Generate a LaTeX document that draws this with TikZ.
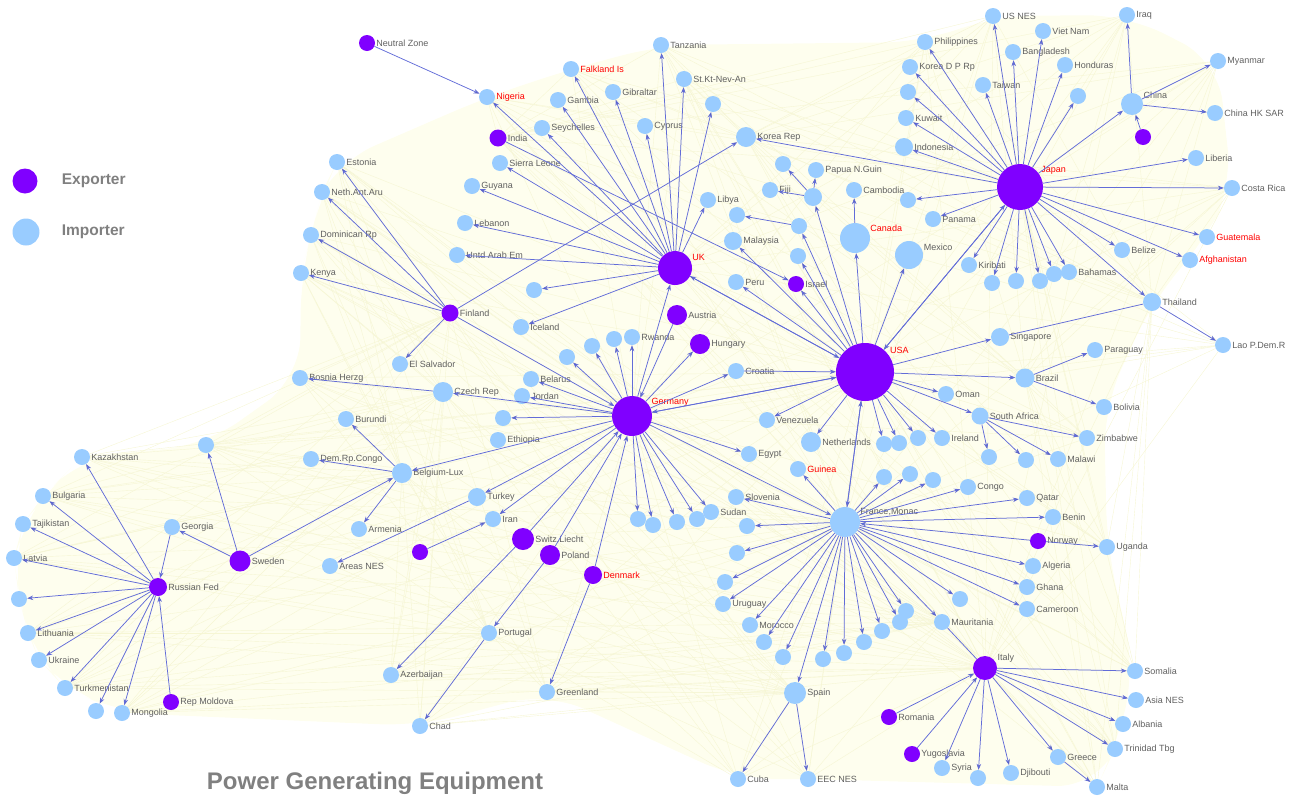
\documentclass[tikz,border=0pt]{standalone}
\usepackage{fontspec}
\setmainfont{Liberation Sans}
\usetikzlibrary{positioning, arrows.meta, backgrounds}
\definecolor{expcol}{RGB}{128,0,255}
\definecolor{impcol}{RGB}{153,204,255}
\definecolor{edgecol}{RGB}{98,108,216}
\definecolor{labgrey}{RGB}{96,96,96}
\definecolor{titlegrey}{RGB}{128,128,128}
\definecolor{webfill}{RGB}{254,254,238}
\definecolor{webline}{RGB}{246,246,212}
\tikzstyle{country}=[circle, inner sep=0pt, minimum size=16pt]
\tikzstyle{exporter}=[country, fill=expcol]
\tikzstyle{importer}=[country, fill=impcol]
\tikzstyle{cname}=[font=\fontsize{9}{10}\selectfont, text=labgrey, inner sep=1pt]
\tikzstyle{rname}=[cname, text=red]
\tikzstyle{flow}=[-{Stealth[length=6pt,width=4.5pt]}, draw=edgecol, line width=0.75pt]
\tikzstyle{plainflow}=[draw=edgecol, line width=0.75pt]
\tikzstyle{web}=[draw=webline, line width=0.4pt]
\tikzstyle{legendtext}=[font=\bfseries\fontsize{15.5}{18}\selectfont, text=titlegrey, inner sep=0pt]

\begin{document}
\begin{tikzpicture}[x=1pt, y=-1pt]
    \useasboundingbox (0,0) rectangle (1291,801);

    % legend and title
    \node[exporter, minimum size=25pt] (legexp) at (25,181) {};
    \node[legendtext, right=24pt of legexp] (legexptext) {Exporter};
    \node[importer, minimum size=27pt] (legimp) at (26,232) {};
    \node[legendtext, right=22pt of legimp] (legimptext) {Importer};
    \node[font=\bfseries\fontsize{24}{28}\selectfont, text=titlegrey, inner sep=0pt] (title) at (375,783) {Power Generating Equipment};

    % exporters
    \node[exporter, label={[cname]right:Neutral Zone}] (neutral) at (367,43) {};
    \node[exporter, minimum size=17pt, label={[cname]right:India}] (india) at (498,138) {};
    \node[exporter, minimum size=34pt, label={[rname]20:UK}] (uk) at (675,268) {};
    \node[exporter, minimum size=17pt, label={[cname]right:Finland}] (finland) at (450,313) {};
    \node[exporter, minimum size=20pt, label={[cname]right:Austria}] (austria) at (677,315) {};
    \node[exporter, minimum size=20pt, label={[cname]right:Hungary}] (hungary) at (700,344) {};
    \node[exporter, label={[cname]right:Israel}] (israel) at (796,284) {};
    \node[exporter, minimum size=58pt, label={[rname]35:USA}] (usa) at (865,372) {};
    \node[exporter, minimum size=40pt, label={[rname]25:Germany}] (germany) at (632,416) {};
    \node[exporter, minimum size=46pt, label={[rname]30:Japan}] (japan) at (1020,187) {};
    \node[exporter] (exjp) at (1143,137) {};
    \node[exporter, minimum size=21pt, label={[cname]right:Sweden}] (sweden) at (240,561) {};
    \node[exporter, minimum size=18pt, label={[cname]right:Russian Fed}] (rusfed) at (158,587) {};
    \node[exporter, label={[cname]right:Rep Moldova}] (moldova) at (171,702) {};
    \node[exporter] (exir) at (420,552) {};
    \node[exporter, minimum size=22pt, label={[cname]right:Switz.Liecht}] (switz) at (523,539) {};
    \node[exporter, minimum size=20pt, label={[cname]right:Poland}] (poland) at (550,555) {};
    \node[exporter, minimum size=18pt, label={[rname]right:Denmark}] (denmark) at (593,575) {};
    \node[exporter, label={[cname]right:Norway}] (norway) at (1038,541) {};
    \node[exporter, minimum size=24pt, label={[cname]20:Italy}] (italy) at (985,668) {};
    \node[exporter, label={[cname]right:Romania}] (romania) at (889,717) {};
    \node[exporter, label={[cname]right:Yugoslavia}] (yugo) at (912,754) {};

    % importers, top left
    \node[importer, label={[rname]right:Nigeria}] (nigeria) at (487,97) {};
    \node[importer, label={[rname]right:Falkland Is}] (falkland) at (571,69) {};
    \node[importer, label={[cname]right:Gambia}] (gambia) at (558,100) {};
    \node[importer, label={[cname]right:Gibraltar}] (gibraltar) at (613,92) {};
    \node[importer, label={[cname]right:Tanzania}] (tanzania) at (661,45) {};
    \node[importer, label={[cname]right:St.Kt-Nev-An}] (stkitts) at (684,79) {};
    \node[importer] (uk1) at (713,104) {};
    \node[importer, label={[cname]right:Cyprus}] (cyprus) at (645,126) {};
    \node[importer, label={[cname]right:Seychelles}] (seychelles) at (542,128) {};
    \node[importer, label={[cname]right:Sierra Leone}] (sierra) at (500,163) {};
    \node[importer, label={[cname]right:Estonia}] (estonia) at (337,162) {};
    \node[importer, label={[cname]right:Neth.Ant.Aru}] (nethant) at (322,192) {};
    \node[importer, label={[cname]right:Guyana}] (guyana) at (472,186) {};
    \node[importer, label={[cname]right:Lebanon}] (lebanon) at (465,223) {};
    \node[importer, label={[cname]right:Dominican Rp}] (dominican) at (311,235) {};
    \node[importer, label={[cname]right:Untd Arab Em}] (uae) at (457,255) {};
    \node[importer, label={[cname]right:Kenya}] (kenya) at (301,273) {};
    \node[importer] (uk2) at (534,290) {};
    \node[importer, label={[cname]right:Iceland}] (iceland) at (521,327) {};

    % importers, top middle
    \node[importer, minimum size=20pt, label={[cname]right:Korea Rep}] (korea) at (746,137) {};
    \node[importer, label={[cname]right:Libya}] (libya) at (708,200) {};
    \node[importer] (us1) at (737,215) {};
    \node[importer, label={[cname]right:Fiji}] (fiji) at (770,190) {};
    \node[importer] (us2) at (783,164) {};
    \node[importer, label={[cname]right:Papua N.Guin}] (papua) at (816,170) {};
    \node[importer, minimum size=18pt] (hub1) at (813,197) {};
    \node[importer] (hub2) at (799,226) {};
    \node[importer, minimum size=18pt, label={[cname]right:Malaysia}] (malaysia) at (733,241) {};
    \node[importer] (us3) at (798,256) {};
    \node[importer, label={[cname]right:Cambodia}] (cambodia) at (854,190) {};
    \node[importer, minimum size=30pt, label={[rname]20:Canada}] (canada) at (855,238) {};
    \node[importer, minimum size=28pt, label={[cname]15:Mexico}] (mexico) at (909,255) {};
    \node[importer, label={[cname]right:Peru}] (peru) at (736,282) {};

    % importers, Japan side
    \node[importer] (jp1) at (908,200) {};
    \node[importer, label={[cname]right:Panama}] (panama) at (933,219) {};
    \node[importer, label={[cname]right:Philippines}] (philippines) at (925,42) {};
    \node[importer, label={[cname]right:Korea D P Rp}] (koreadp) at (910,67) {};
    \node[importer] (jp2) at (908,92) {};
    \node[importer, label={[cname]right:Kuwait}] (kuwait) at (906,118) {};
    \node[importer, minimum size=18pt, label={[cname]right:Indonesia}] (indonesia) at (904,147) {};
    \node[importer, label={[cname]right:US NES}] (usnes) at (993,16) {};
    \node[importer, label={[cname]right:Viet Nam}] (vietnam) at (1043,31) {};
    \node[importer, label={[cname]right:Bangladesh}] (bangladesh) at (1013,52) {};
    \node[importer, label={[cname]right:Honduras}] (honduras) at (1065,65) {};
    \node[importer, label={[cname]right:Taiwan}] (taiwan) at (983,85) {};
    \node[importer] (jp3) at (1078,96) {};
    \node[importer, label={[cname]right:Iraq}] (iraq) at (1127,15) {};
    \node[importer, label={[cname]right:Myanmar}] (myanmar) at (1218,61) {};
    \node[importer, minimum size=22pt, label={[cname]20:China}] (china) at (1132,104) {};
    \node[importer, label={[cname]right:China HK SAR}] (chinahk) at (1215,113) {};
    \node[importer, label={[cname]right:Liberia}] (liberia) at (1196,158) {};
    \node[importer, label={[cname]right:Costa Rica}] (costarica) at (1232,188) {};
    \node[importer, label={[rname]right:Guatemala}] (guatemala) at (1207,237) {};
    \node[importer, label={[rname]right:Afghanistan}] (afghan) at (1190,260) {};
    \node[importer, label={[cname]right:Belize}] (belize) at (1122,250) {};
    \node[importer, label={[cname]right:Kiribati}] (kiribati) at (969,265) {};
    \node[importer] (jp4) at (992,283) {};
    \node[importer] (jp5) at (1016,281) {};
    \node[importer] (jp6) at (1040,281) {};
    \node[importer] (jp7) at (1054,274) {};
    \node[importer, label={[cname]right:Bahamas}] (bahamas) at (1069,272) {};
    \node[importer, minimum size=18pt, label={[cname]right:Thailand}] (thailand) at (1152,302) {};
    \node[importer, label={[cname]right:Lao P.Dem.R}] (lao) at (1223,345) {};

    % importers, right of USA
    \node[importer, minimum size=18pt, label={[cname]right:Singapore}] (singapore) at (1000,337) {};
    \node[importer, label={[cname]right:Paraguay}] (paraguay) at (1095,350) {};
    \node[importer, minimum size=19pt, label={[cname]right:Brazil}] (brazil) at (1025,378) {};
    \node[importer, label={[cname]right:Bolivia}] (bolivia) at (1104,407) {};
    \node[importer, minimum size=17pt, label={[cname]right:South Africa}] (southafrica) at (980,416) {};
    \node[importer, label={[cname]right:Zimbabwe}] (zimbabwe) at (1087,438) {};
    \node[importer] (sa1) at (989,457) {};
    \node[importer] (sa2) at (1026,460) {};
    \node[importer, label={[cname]right:Malawi}] (malawi) at (1058,459) {};
    \node[importer, label={[cname]right:Oman}] (oman) at (946,394) {};
    \node[importer] (usa1) at (884,444) {};
    \node[importer] (usa2) at (899,443) {};
    \node[importer] (usa3) at (918,438) {};
    \node[importer, label={[cname]right:Ireland}] (ireland) at (942,438) {};
    \node[importer, label={[cname]right:Croatia}] (croatia) at (736,371) {};
    \node[importer, label={[cname]right:Venezuela}] (venezuela) at (767,420) {};
    \node[importer, minimum size=20pt, label={[cname]right:Netherlands}] (netherlands) at (811,442) {};
    \node[importer, label={[cname]right:Egypt}] (egypt) at (749,454) {};
    \node[importer, label={[rname]right:Guinea}] (guinea) at (798,469) {};

    % importers, France and Italy
    \node[importer, minimum size=30pt, label={[cname]20:France,Monac}] (france) at (845,522) {};
    \node[importer] (fr13) at (884,477) {};
    \node[importer] (fr14) at (910,474) {};
    \node[importer] (fr15) at (933,480) {};
    \node[importer, label={[cname]right:Congo}] (congo) at (968,487) {};
    \node[importer, label={[cname]right:Qatar}] (qatar) at (1027,498) {};
    \node[importer, label={[cname]right:Benin}] (benin) at (1053,517) {};
    \node[importer, label={[cname]right:Uganda}] (uganda) at (1107,547) {};
    \node[importer, label={[cname]right:Algeria}] (algeria) at (1033,566) {};
    \node[importer, label={[cname]right:Ghana}] (ghana) at (1027,587) {};
    \node[importer, label={[cname]right:Cameroon}] (cameroon) at (1027,609) {};
    \node[importer] (fr1) at (960,599) {};
    \node[importer, label={[cname]right:Mauritania}] (mauritania) at (942,622) {};
    \node[importer, label={[cname]right:Slovenia}] (slovenia) at (736,497) {};
    \node[importer] (fr12) at (747,526) {};
    \node[importer] (fr2) at (737,553) {};
    \node[importer] (fr3) at (725,582) {};
    \node[importer, label={[cname]right:Uruguay}] (uruguay) at (723,604) {};
    \node[importer, label={[cname]right:Morocco}] (morocco) at (750,625) {};
    \node[importer] (fr4) at (764,642) {};
    \node[importer] (fr5) at (783,657) {};
    \node[importer] (fr6) at (823,659) {};
    \node[importer] (fr7) at (844,653) {};
    \node[importer] (fr8) at (864,642) {};
    \node[importer] (fr9) at (882,631) {};
    \node[importer] (fr10) at (900,622) {};
    \node[importer] (fr11) at (906,611) {};
    \node[importer, minimum size=22pt, label={[cname]right:Spain}] (spain) at (795,693) {};
    \node[importer, label={[cname]right:Cuba}] (cuba) at (738,779) {};
    \node[importer, label={[cname]right:EEC NES}] (eecnes) at (808,779) {};
    \node[importer, label={[cname]right:Somalia}] (somalia) at (1135,671) {};
    \node[importer, label={[cname]right:Asia NES}] (asianes) at (1136,700) {};
    \node[importer, label={[cname]right:Albania}] (albania) at (1123,724) {};
    \node[importer, label={[cname]right:Trinidad Tbg}] (trinidad) at (1115,749) {};
    \node[importer, label={[cname]right:Greece}] (greece) at (1058,757) {};
    \node[importer, label={[cname]right:Malta}] (malta) at (1097,787) {};
    \node[importer, label={[cname]right:Djibouti}] (djibouti) at (1011,773) {};
    \node[importer] (it1) at (978,778) {};
    \node[importer, label={[cname]right:Syria}] (syria) at (942,768) {};

    % importers, around Germany
    \node[importer, label={[cname]right:Sudan}] (sudan) at (711,512) {};
    \node[importer] (de1) at (697,519) {};
    \node[importer] (de2) at (677,522) {};
    \node[importer] (de3) at (653,525) {};
    \node[importer] (de4) at (638,519) {};
    \node[importer] (de6) at (567,357) {};
    \node[importer] (de7) at (592,346) {};
    \node[importer] (de8) at (614,339) {};
    \node[importer, label={[cname]right:Rwanda}] (rwanda) at (632,337) {};
    \node[importer, label={[cname]right:Belarus}] (belarus) at (531,379) {};
    \node[importer, label={[cname]right:Jordan}] (jordan) at (522,396) {};
    \node[importer] (de5) at (503,418) {};
    \node[importer, label={[cname]right:Ethiopia}] (ethiopia) at (498,440) {};
    \node[importer, label={[cname]right:El Salvador}] (elsalvador) at (400,364) {};
    \node[importer, minimum size=20pt, label={[cname]right:Czech Rep}] (czech) at (443,392) {};
    \node[importer, label={[cname]right:Bosnia Herzg}] (bosnia) at (300,378) {};
    \node[importer, label={[cname]right:Burundi}] (burundi) at (346,419) {};
    \node[importer, label={[cname]right:Dem.Rp.Congo}] (drcongo) at (311,459) {};
    \node[importer, minimum size=20pt, label={[cname]right:Belgium-Lux}] (belgium) at (402,473) {};
    \node[importer, label={[cname]right:Armenia}] (armenia) at (359,529) {};
    \node[importer, minimum size=18pt, label={[cname]right:Turkey}] (turkey) at (477,497) {};
    \node[importer, label={[cname]right:Iran}] (iran) at (493,519) {};
    \node[importer, label={[cname]right:Areas NES}] (areasnes) at (330,566) {};
    \node[importer, label={[cname]right:Portugal}] (portugal) at (489,633) {};
    \node[importer, label={[cname]right:Azerbaijan}] (azerbaijan) at (391,675) {};
    \node[importer, label={[cname]right:Chad}] (chad) at (420,726) {};
    \node[importer, label={[cname]right:Greenland}] (greenland) at (547,692) {};

    % importers, Russia and Sweden
    \node[importer, label={[cname]right:Georgia}] (georgia) at (172,527) {};
    \node[importer] (sw1) at (206,445) {};
    \node[importer, label={[cname]right:Kazakhstan}] (kazakhstan) at (82,457) {};
    \node[importer, label={[cname]right:Bulgaria}] (bulgaria) at (43,496) {};
    \node[importer, label={[cname]right:Tajikistan}] (tajikistan) at (23,524) {};
    \node[importer, label={[cname]right:Latvia}] (latvia) at (14,558) {};
    \node[importer] (ru1) at (19,599) {};
    \node[importer, label={[cname]right:Lithuania}] (lithuania) at (28,633) {};
    \node[importer, label={[cname]right:Ukraine}] (ukraine) at (39,660) {};
    \node[importer, label={[cname]right:Turkmenistan}] (turkmenistan) at (65,688) {};
    \node[importer] (ru2) at (96,711) {};
    \node[importer, label={[cname]right:Mongolia}] (mongolia) at (122,713) {};

    % faint web of the other trade flows
    \begin{scope}[on background layer]
        \fill[webfill, rounded corners=40pt] (kenya.center) -- (dominican.center) -- (nethant.center)
            -- (estonia.center) -- (nigeria.center) -- (falkland.center) -- (tanzania.center)
            -- (philippines.center) -- (usnes.center) -- (iraq.center) -- (myanmar.center)
            -- (costarica.center) -- (guatemala.center) -- (thailand.center) -- (bolivia.center)
            -- (uganda.center) -- (somalia.center) -- (trinidad.center) -- (malta.center)
            -- (eecnes.center) -- (cuba.center) -- (greenland.center) -- (chad.center)
            -- (mongolia.center) -- (turkmenistan.center) -- (ukraine.center) -- (lithuania.center)
            -- (ru1.center) -- (latvia.center) -- (tajikistan.center) -- (bulgaria.center)
            -- (kazakhstan.center) -- (sw1.center) -- (bosnia.center) -- cycle;
        \foreach \a in {kenya, bosnia, estonia, nethant, dominican, kazakhstan, bulgaria, latvia,
            lithuania, turkmenistan, mongolia, chad, azerbaijan, greenland, cuba, eecnes, sw1}
            \foreach \b in {france, usa, germany, italy, spain, belgium, czech, finland, portugal, mauritania}
                \draw[web] (\a) -- (\b);
        \foreach \a in {nigeria, falkland, tanzania, stkitts, philippines, usnes, iraq, myanmar,
            costarica, lao, uganda, somalia, malta, trinidad, zimbabwe}
            \foreach \b in {uk, japan, usa, france, germany, india, korea, thailand, brazil, italy}
                \draw[web] (\a) -- (\b);
    \end{scope}

    % trade flows
    \path[flow]
    (neutral) edge (nigeria)
    (uk) edge (nigeria)
    (uk) edge (falkland)
    (uk) edge (gambia)
    (uk) edge (gibraltar)
    (uk) edge (tanzania)
    (uk) edge (stkitts)
    (uk) edge (uk1)
    (uk) edge (cyprus)
    (uk) edge (seychelles)
    (uk) edge (sierra)
    (uk) edge (guyana)
    (uk) edge (lebanon)
    (uk) edge (uae)
    (uk) edge (libya)
    (uk) edge (uk2)
    (uk) edge (iceland)
    (uk) edge (usa)
    (india) edge (israel)
    (finland) edge (kenya)
    (finland) edge (dominican)
    (finland) edge (nethant)
    (finland) edge (estonia)
    (finland) edge (elsalvador)
    (finland) edge (korea)
    (finland) edge (germany)
    (austria) edge (germany)
    (germany) edge (uk)
    (germany) edge (hungary)
    (germany) edge (croatia)
    (germany) edge (usa)
    (germany) edge (czech)
    (germany) edge (belarus)
    (germany) edge (jordan)
    (germany) edge (de5)
    (germany) edge (belgium)
    (germany) edge (turkey)
    (germany) edge (iran)
    (germany) edge (de6)
    (germany) edge (de7)
    (germany) edge (de8)
    (germany) edge (rwanda)
    (germany) edge (egypt)
    (germany) edge (france)
    (germany) edge (sudan)
    (germany) edge (de1)
    (germany) edge (de2)
    (germany) edge (de3)
    (germany) edge (de4)
    (czech) edge (bosnia)
    (croatia) edge (usa)
    (switz) edge (germany)
    (switz) edge (azerbaijan)
    (poland) edge (germany)
    (poland) edge (portugal)
    (portugal) edge (chad)
    (denmark) edge (germany)
    (denmark) edge (greenland)
    (exir) edge (iran)
    (turkey) edge (areasnes)
    (belgium) edge (burundi)
    (belgium) edge (drcongo)
    (belgium) edge (armenia)
    (sweden) edge (belgium)
    (sweden) edge (georgia)
    (sweden) edge (sw1)
    (georgia) edge (rusfed)
    (moldova) edge (rusfed)
    (rusfed) edge (kazakhstan)
    (rusfed) edge (bulgaria)
    (rusfed) edge (tajikistan)
    (rusfed) edge (latvia)
    (rusfed) edge (ru1)
    (rusfed) edge (lithuania)
    (rusfed) edge (ukraine)
    (rusfed) edge (turkmenistan)
    (rusfed) edge (ru2)
    (rusfed) edge (mongolia)
    (usa) edge (uk)
    (usa) edge (germany)
    (usa) edge (peru)
    (usa) edge (israel)
    (usa) edge (malaysia)
    (usa) edge (us3)
    (usa) edge (hub2)
    (usa) edge (hub1)
    (usa) edge (canada)
    (usa) edge (mexico)
    (usa) edge (japan)
    (usa) edge (venezuela)
    (usa) edge (netherlands)
    (usa) edge (oman)
    (usa) edge (usa1)
    (usa) edge (usa2)
    (usa) edge (usa3)
    (usa) edge (ireland)
    (usa) edge (singapore)
    (usa) edge (brazil)
    (usa) edge (southafrica)
    (usa) edge (france)
    (hub1) edge (fiji)
    (hub1) edge (us2)
    (hub1) edge (papua)
    (hub2) edge (us1)
    (canada) edge (cambodia)
    (brazil) edge (paraguay)
    (brazil) edge (bolivia)
    (southafrica) edge (zimbabwe)
    (southafrica) edge (sa1)
    (southafrica) edge (sa2)
    (southafrica) edge (malawi)
    (thailand) edge (lao)
    (japan) edge (philippines)
    (japan) edge (koreadp)
    (japan) edge (jp2)
    (japan) edge (kuwait)
    (japan) edge (indonesia)
    (japan) edge (korea)
    (japan) edge (jp1)
    (japan) edge (panama)
    (japan) edge (usnes)
    (japan) edge (taiwan)
    (japan) edge (bangladesh)
    (japan) edge (vietnam)
    (japan) edge (honduras)
    (japan) edge (jp3)
    (japan) edge (china)
    (japan) edge (liberia)
    (japan) edge (costarica)
    (japan) edge (guatemala)
    (japan) edge (afghan)
    (japan) edge (belize)
    (japan) edge (thailand)
    (japan) edge (kiribati)
    (japan) edge (jp4)
    (japan) edge (jp5)
    (japan) edge (jp6)
    (japan) edge (jp7)
    (japan) edge (bahamas)
    (japan) edge (usa)
    (china) edge (iraq)
    (china) edge (myanmar)
    (china) edge (chinahk)
    (exjp) edge (china)
    (france) edge (usa)
    (france) edge (guinea)
    (france) edge (slovenia)
    (france) edge (fr12)
    (france) edge (fr2)
    (france) edge (fr3)
    (france) edge (uruguay)
    (france) edge (morocco)
    (france) edge (fr4)
    (france) edge (fr5)
    (france) edge (spain)
    (france) edge (fr6)
    (france) edge (fr7)
    (france) edge (fr8)
    (france) edge (fr9)
    (france) edge (fr10)
    (france) edge (fr11)
    (france) edge (mauritania)
    (france) edge (fr1)
    (france) edge (cameroon)
    (france) edge (ghana)
    (france) edge (algeria)
    (france) edge (benin)
    (france) edge (qatar)
    (france) edge (congo)
    (france) edge (fr13)
    (france) edge (fr14)
    (france) edge (fr15)
    (norway) edge (france)
    (norway) edge (uganda)
    (spain) edge (cuba)
    (spain) edge (eecnes)
    (italy) edge (somalia)
    (italy) edge (asianes)
    (italy) edge (albania)
    (italy) edge (trinidad)
    (italy) edge (greece)
    (italy) edge (djibouti)
    (italy) edge (it1)
    (italy) edge (syria)
    (greece) edge (malta)
    (romania) edge (italy)
    (yugo) edge (italy);

    \path[plainflow]
    (singapore) edge (thailand)
    (mauritania) edge (italy);
\end{tikzpicture}
\end{document}
